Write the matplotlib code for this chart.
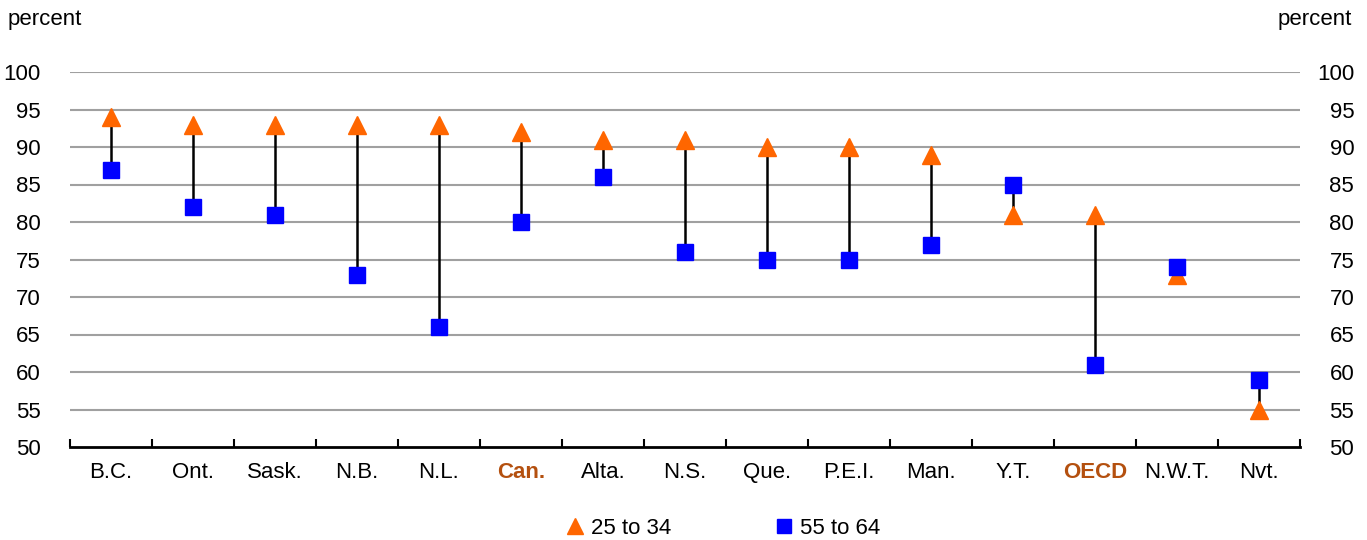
import matplotlib
matplotlib.use("Agg")
import matplotlib.pyplot as plt
import numpy as np
from matplotlib.lines import Line2D

categories = ["B.C.", "Ont.", "Sask.", "N.B.", "N.L.", "Can.", "Alta.", "N.S.",
              "Que.", "P.E.I.", "Man.", "Y.T.", "OECD", "N.W.T.", "Nvt."]
age_25_34 = [94, 93, 93, 93, 93, 92, 91, 91, 90, 90, 89, 81, 81, 73, 55]
age_55_64 = [87, 82, 81, 73, 66, 80, 86, 76, 75, 75, 77, 85, 61, 74, 59]
highlight = ["Can.", "OECD"]
yticks = [50, 55, 60, 65, 70, 75, 80, 85, 90, 95, 100]

plt.rcParams['font.family'] = ['Liberation Sans', 'DejaVu Sans']
FS = 16
ORANGE = "#FF6600"
BLUE = "#0000FF"
HL = "#B4500F"

fig = plt.figure(figsize=(13.67, 5.4), dpi=100)
ax = fig.add_axes([70/1367, 93/540, 1230/1367, 375/540])

x = np.arange(len(categories))
for xi, a, b in zip(x, age_25_34, age_55_64):
    ax.plot([xi, xi], [a, b], color="black", lw=1.8, zorder=2)
ax.plot(x, age_25_34, linestyle="none", marker="^", ms=13, color=ORANGE, zorder=3)
ax.plot(x, age_55_64, linestyle="none", marker="s", ms=12, color=BLUE, zorder=4)

ax.set_xlim(-0.5, len(categories) - 0.5)
ax.set_ylim(50, 100)
ax.set_yticks(yticks)
ax.set_yticklabels([str(v) for v in yticks], fontsize=FS)
for v in yticks[1:]:
    ax.axhline(v, color="#A0A0A0", lw=1.5, zorder=1)

for s in ["top", "right", "left"]:
    ax.spines[s].set_visible(False)
ax.spines["bottom"].set_linewidth(2)
ax.spines["bottom"].set_color("black")

ax.set_xticks(x)
ax.set_xticklabels(categories, fontsize=FS)
ax.set_xticks(np.arange(-0.5, len(categories)), minor=True)
ax.tick_params(axis="x", which="major", length=0, pad=11)
ax.tick_params(axis="x", which="minor", length=6, width=1.5, direction="in")
ax.tick_params(axis="y", length=0, pad=21)
for lab in ax.get_xticklabels():
    if lab.get_text() in highlight:
        lab.set_color(HL)
        lab.set_fontweight("bold")

ax2 = ax.twinx()
ax2.set_ylim(50, 100)
ax2.set_yticks(yticks)
ax2.set_yticklabels([str(v) for v in yticks], fontsize=FS, ha="right")
ax2.tick_params(axis="y", length=0, pad=39)
for s in ax2.spines.values():
    s.set_visible(False)

fig.text(8/1367, 1 - 20/540, "percent", fontsize=FS, ha="left", va="center")
fig.text(1352/1367, 1 - 20/540, "percent", fontsize=FS, ha="right", va="center")

handles = [Line2D([], [], linestyle="none", marker="^", ms=11, color=ORANGE),
           Line2D([], [], linestyle="none", marker="s", ms=10, color=BLUE)]
fig.legend(handles, ["25 to 34", "55 to 64"], loc="center", bbox_to_anchor=(722/1367, 1 - 528/540),
           ncol=2, frameon=False, fontsize=FS, columnspacing=4.6, handletextpad=0.2, handlelength=1)

fig.savefig("out.png", dpi=100)
